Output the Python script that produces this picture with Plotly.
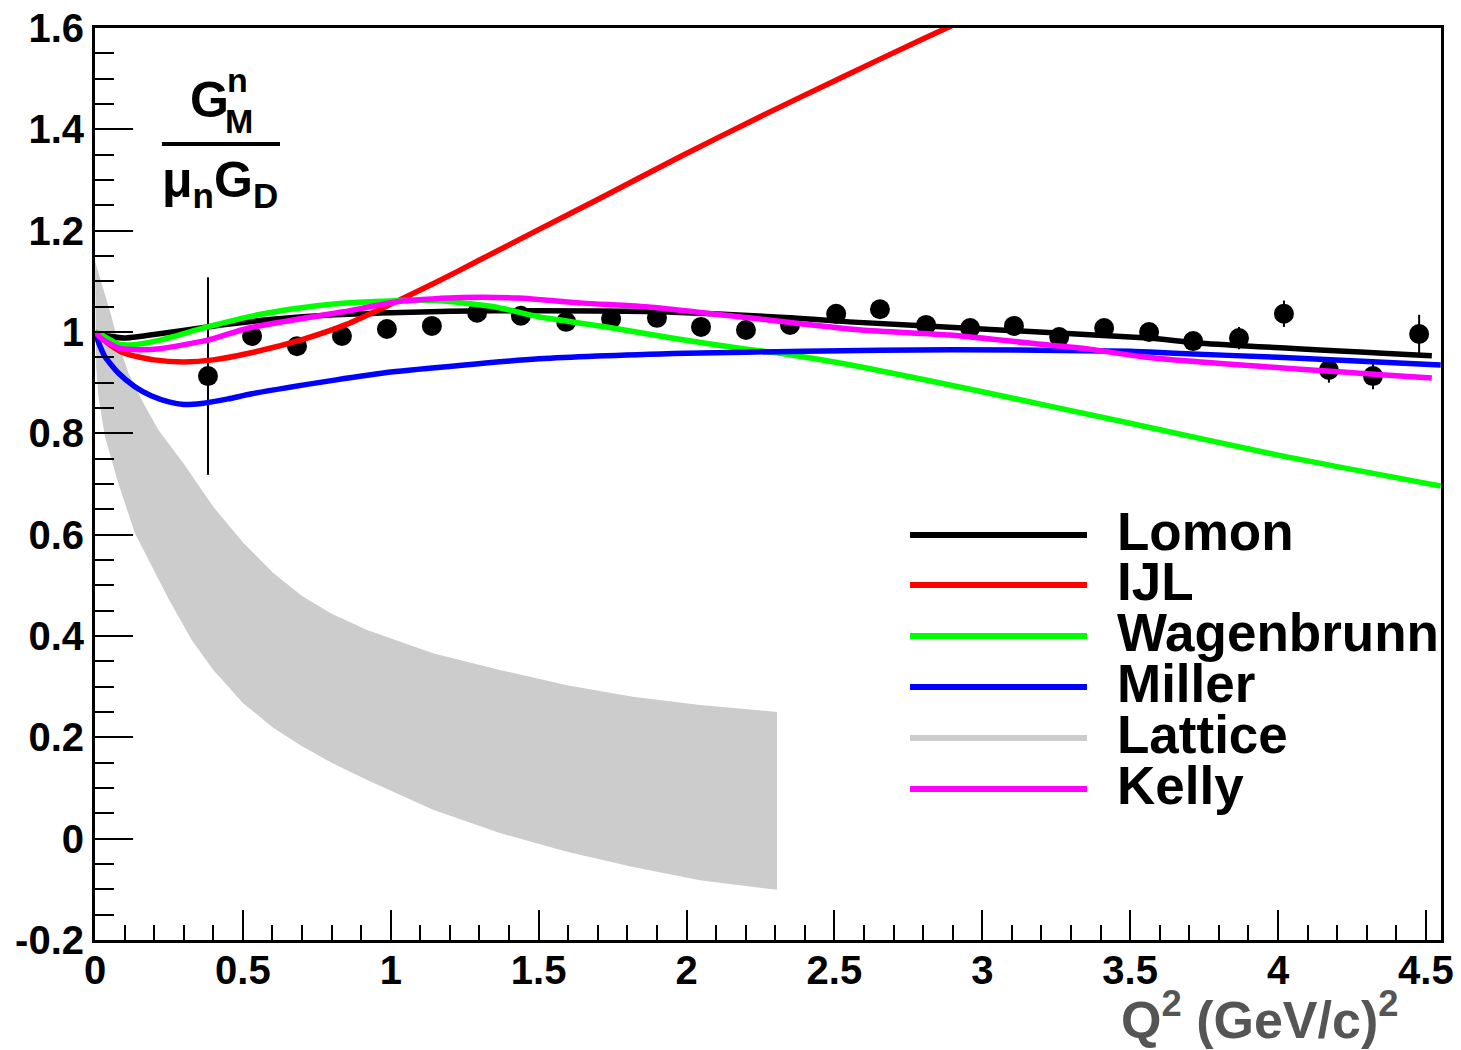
import plotly.graph_objects as go

# ---------------- data ----------------
data_q2 = [0.382, 0.531, 0.683, 0.835, 0.987, 1.139, 1.292, 1.440, 1.593, 1.745,
           1.900, 2.049, 2.201, 2.350, 2.506, 2.654, 2.810, 2.959, 3.107, 3.260,
           3.412, 3.564, 3.713, 3.868, 4.020, 4.172, 4.321, 4.477]
data_gm = [0.913, 0.992, 0.972, 0.992, 1.006, 1.012, 1.038, 1.032, 1.020, 1.026,
           1.028, 1.010, 1.004, 1.014, 1.036, 1.045, 1.014, 1.008, 1.012, 0.990,
           1.008, 1.000, 0.982, 0.988, 1.036, 0.925, 0.913, 0.996]
data_err = [0.195, 0.010, 0.010, 0.010, 0.010, 0.010, 0.010, 0.010, 0.010, 0.010,
            0.010, 0.010, 0.010, 0.010, 0.012, 0.012, 0.012, 0.012, 0.012, 0.014,
            0.014, 0.014, 0.016, 0.022, 0.026, 0.025, 0.026, 0.038]

lomon_x = [0.03, 0.10, 0.20, 0.38, 0.60, 0.81, 1.00, 1.20, 1.50, 1.90, 2.35, 2.55, 3.06, 3.56, 3.74, 4.52]
lomon_y = [0.993, 0.988, 0.995, 1.010, 1.025, 1.034, 1.038, 1.041, 1.042, 1.040, 1.028, 1.020, 1.004, 0.988, 0.978, 0.953]

ijl_x = [0.0, 0.05, 0.10, 0.20, 0.30, 0.40, 0.52, 0.70, 0.85, 1.00, 1.15, 1.30, 1.50, 1.708, 1.978, 2.249, 2.519, 2.79, 2.891, 2.95]
ijl_y = [1.0, 0.975, 0.958, 0.945, 0.941, 0.945, 0.958, 0.985, 1.015, 1.055, 1.097, 1.142, 1.202, 1.264, 1.346, 1.425, 1.501, 1.576, 1.603, 1.62]

wag_x = [0.0, 0.02, 0.05, 0.08, 0.13, 0.22, 0.38, 0.56, 0.75, 0.95, 1.15, 1.35, 1.50, 1.73, 1.95, 2.18, 2.35, 2.60, 3.00, 3.50, 4.00, 4.55]
wag_y = [1.0, 0.995, 0.985, 0.976, 0.975, 0.984, 1.010, 1.035, 1.052, 1.060, 1.062, 1.050, 1.030, 1.010, 0.988, 0.968, 0.955, 0.930, 0.882, 0.820, 0.757, 0.696]

mil_x = [0.0, 0.015, 0.034, 0.079, 0.135, 0.19, 0.25, 0.30, 0.36, 0.45, 0.53, 0.81, 1.00, 1.50, 2.00, 2.40, 2.90, 3.50, 3.65, 4.00, 4.55]
mil_y = [1.0, 0.975, 0.951, 0.919, 0.892, 0.874, 0.862, 0.857, 0.859, 0.868, 0.878, 0.905, 0.921, 0.947, 0.958, 0.962, 0.965, 0.962, 0.958, 0.950, 0.935]

kel_x = [0.0, 0.02, 0.08, 0.15, 0.22, 0.38, 0.52, 0.84, 1.04, 1.24, 1.43, 1.65, 1.88, 2.18, 2.59, 2.89, 3.23, 3.34, 3.57, 4.52]
kel_y = [1.0, 0.988, 0.968, 0.965, 0.967, 0.984, 1.008, 1.040, 1.061, 1.068, 1.067, 1.057, 1.049, 1.030, 1.004, 0.994, 0.974, 0.968, 0.949, 0.909]

lat_x_up = [0.0, 0.034, 0.056, 0.079, 0.113, 0.158, 0.214, 0.30, 0.40, 0.50, 0.60, 0.70, 0.80, 0.92, 1.143, 1.369, 1.596, 1.819, 2.046, 2.306]
lat_up = [1.14, 1.076, 1.030, 0.978, 0.919, 0.866, 0.807, 0.740, 0.655, 0.585, 0.526, 0.479, 0.444, 0.412, 0.366, 0.333, 0.303, 0.280, 0.264, 0.250]
lat_x_lo = [0.0, 0.004, 0.012, 0.034, 0.079, 0.135, 0.192, 0.248, 0.327, 0.40, 0.50, 0.60, 0.693, 0.80, 0.92, 1.143, 1.369, 1.596, 1.819, 2.046, 2.306]
lat_lo = [1.14, 0.93, 0.87, 0.793, 0.701, 0.603, 0.537, 0.474, 0.392, 0.333, 0.268, 0.220, 0.185, 0.150, 0.116, 0.057, 0.011, -0.026, -0.056, -0.082, -0.101]

y_tickvals = [-0.2, 0, 0.2, 0.4, 0.6, 0.8, 1.0, 1.2, 1.4, 1.6]
y_ticktext = ["-0.2", "0", "0.2", "0.4", "0.6", "0.8", "1", "1.2", "1.4", "1.6"]
x_tickvals = [0, 0.5, 1, 1.5, 2, 2.5, 3, 3.5, 4, 4.5]
x_ticktext = ["0", "0.5", "1", "1.5", "2", "2.5", "3", "3.5", "4", "4.5"]

legend_names = ["Lomon", "IJL", "Wagenbrunn", "Miller", "Lattice", "Kelly"]
legend_colors = ["#000000", "#ff0000", "#00ff00", "#0000ff", "#cccccc", "#ff00ff"]

# ---------------- figure ----------------
W, H = 1461, 1050
L, R, T, B = 95, 20, 28, 110
FONT = "Liberation Sans, Arial, Helvetica, sans-serif"

fig = go.Figure()

# lattice band
fig.add_trace(go.Scatter(
    x=lat_x_up + lat_x_lo[::-1], y=lat_up + lat_lo[::-1],
    fill="toself", fillcolor="#cccccc", line=dict(width=0, color="#cccccc"),
    mode="lines", hoverinfo="skip", showlegend=False))

# data points
fig.add_trace(go.Scatter(
    x=data_q2, y=data_gm, mode="markers",
    marker=dict(size=20, color="black"),
    error_y=dict(type="data", array=data_err, color="black", thickness=2, width=0),
    showlegend=False))

LW = 5.5
for xs, ys, c in [(lomon_x, lomon_y, "#000000"), (ijl_x, ijl_y, "#ff0000"),
                  (wag_x, wag_y, "#00ff00"), (mil_x, mil_y, "#0000ff"),
                  (kel_x, kel_y, "#ff00ff")]:
    fig.add_trace(go.Scatter(x=xs, y=ys, mode="lines",
                             line=dict(color=c, width=LW, shape="spline", smoothing=0.6),
                             showlegend=False))

pw = W - L - R
ph = H - T - B

def px(xp):
    return (xp - L) / pw

def py(yp):
    return (H - B - yp) / ph

shapes = []
annotations = []

# legend
leg_y = [535, 585, 636, 687, 738, 789]
for name, col, yy in zip(legend_names, legend_colors, leg_y):
    shapes.append(dict(type="line", xref="paper", yref="paper",
                       x0=px(910), x1=px(1087), y0=py(yy), y1=py(yy),
                       line=dict(color=col, width=6)))
    annotations.append(dict(xref="paper", yref="paper", x=px(1115), y=py(yy - 4),
                            xanchor="left", yanchor="middle", showarrow=False,
                            text="<b>%s</b>" % name,
                            font=dict(family=FONT, size=53, color="black")))

# y-axis label (fraction)
annotations.append(dict(xref="paper", yref="paper", x=px(209), y=py(100), xanchor="center", yanchor="middle",
                        showarrow=False, text="<b>G</b>", font=dict(family=FONT, size=50, color="black")))
annotations.append(dict(xref="paper", yref="paper", x=px(225), y=py(80), xanchor="left", yanchor="middle",
                        showarrow=False, text="<b>n</b>", font=dict(family=FONT, size=34, color="black")))
annotations.append(dict(xref="paper", yref="paper", x=px(223), y=py(121), xanchor="left", yanchor="middle",
                        showarrow=False, text="<b>M</b>", font=dict(family=FONT, size=34, color="black")))
shapes.append(dict(type="line", xref="paper", yref="paper", x0=px(162), x1=px(280), y0=py(144), y1=py(144),
                   line=dict(color="black", width=4)))
annotations.append(dict(xref="paper", yref="paper", x=px(160), y=py(184), xanchor="left", yanchor="middle",
                        showarrow=False, text="<b>\u03bc<sub>n</sub>G<sub>D</sub></b>",
                        font=dict(family=FONT, size=50, color="black")))

# x-axis title
annotations.append(dict(xref="paper", yref="paper", x=px(1400), y=py(1016), xanchor="right", yanchor="middle",
                        showarrow=False, text="<b>Q<sup>2</sup> (GeV/c)<sup>2</sup></b>",
                        font=dict(family=FONT, size=52, color="#555555")))

fig.update_layout(
    width=W, height=H, margin=dict(l=L, r=R, t=T, b=B, autoexpand=False),
    paper_bgcolor="white", plot_bgcolor="white",
    showlegend=False, shapes=shapes, annotations=annotations,
    xaxis=dict(range=[0, 4.551], tickvals=x_tickvals, ticktext=x_ticktext, automargin=False,
               ticks="inside", ticklen=30, tickwidth=2, tickcolor="black", ticklabelstandoff=-7,
               minor=dict(ticks="inside", ticklen=15, tickwidth=2, dtick=0.1, tickcolor="black"),
               showline=True, linecolor="black", linewidth=3, mirror=True,
               showgrid=False, zeroline=False,
               tickfont=dict(family=FONT, size=40, color="black", weight="bold")),
    yaxis=dict(range=[-0.2, 1.6], tickvals=y_tickvals, ticktext=y_ticktext, automargin=False,
               ticks="inside", ticklen=38, tickwidth=2, tickcolor="black",
               minor=dict(ticks="inside", ticklen=19, tickwidth=2, dtick=0.05, tickcolor="black"),
               showline=True, linecolor="black", linewidth=3, mirror=True,
               showgrid=False, zeroline=False,
               tickfont=dict(family=FONT, size=40, color="black", weight="bold")),
)

fig.write_html("out.html")
